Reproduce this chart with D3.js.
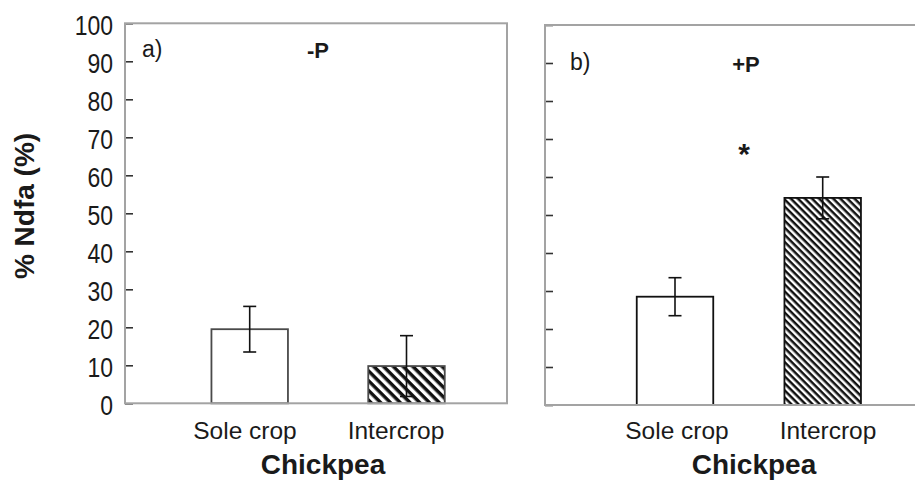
<!DOCTYPE html>
<html>
<head>
<meta charset="utf-8">
<script src="https://cdn.jsdelivr.net/npm/d3@7/dist/d3.min.js"></script>
<style>
  html, body { margin: 0; padding: 0; background: #fff; overflow: hidden; }
  svg { display: block; }
  text { font-family: "Liberation Sans", Arial, sans-serif; fill: #1a1a1a; }
</style>
</head>
<body>
<svg id="chart" width="915" height="486"></svg>
<script>
// Chickpea % Ndfa, sole crop vs intercrop, without (-P) and with (+P) phosphorus
const categories = ["Sole crop", "Intercrop"];
const panelTags = ["a)", "b)"];
const treatments = ["-P", "+P"];
const ndfaMinusP = [19.5, 9.8];
const errMinusP = [6.0, 8.0];
const ndfaPlusP = [28.5, 54.5];
const errPlusP = [5.0, 5.5];
const significance = ["", "*"];
const yTicks = [0, 10, 20, 30, 40, 50, 60, 70, 80, 90, 100];
const yTitle = "% Ndfa (%)";
const xTitle = "Chickpea";

const svg = d3.select("#chart");

// hatch fills for the intercrop bars
const defs = svg.append("defs");
function hatch(id, period) {
  const p = defs.append("pattern")
    .attr("id", id)
    .attr("patternUnits", "userSpaceOnUse")
    .attr("width", period).attr("height", period)
    .attr("patternTransform", "rotate(45)");
  p.append("rect").attr("width", period).attr("height", period).attr("fill", "#fff");
  p.append("rect").attr("width", period).attr("height", period / 2).attr("fill", "#111");
}
hatch("hatchA", 6.9);
hatch("hatchB", 5.0);

const panels = [
  { tag: panelTags[0], treat: treatments[0], values: ndfaMinusP, errs: errMinusP,
    x0: 125, x1: 507, y0: 23.3, y1: 403.3, centers: [249.7, 406.5], labels: [245, 396],
    showTickLabels: true, hatch: "hatchA", barStroke: "#4a4a4a",
    tagPos: [142, 57], treatX: 318, treatY: 57.5, titleX: 323 },
  { tag: panelTags[1], treat: treatments[1], values: ndfaPlusP, errs: errPlusP,
    x0: 545, x1: 980, y0: 25, y1: 405, centers: [675, 822.7], labels: [677, 828],
    showTickLabels: false, hatch: "hatchB", barStroke: "#111",
    tagPos: [570, 70], treatX: 746, treatY: 71.5, titleX: 754 }
];

const barWidth = 76.5;

panels.forEach((P, pi) => {
  const y = d3.scaleLinear().domain([0, 100]).range([P.y1, P.y0]);
  const x = d3.scalePoint().domain(categories).range(P.centers);
  const xl = d3.scalePoint().domain(categories).range(P.labels);
  const g = svg.append("g");

  // y axis with inward ticks
  const axis = d3.axisLeft(y).tickValues(yTicks).tickSize(-8).tickPadding(0)
    .tickFormat(P.showTickLabels ? d3.format("d") : () => "");
  const ag = g.append("g").attr("transform", `translate(${P.x0},0)`).call(axis);
  ag.select(".domain").remove();
  ag.selectAll(".tick line").attr("stroke", "#333").attr("stroke-width", 1.6);
  ag.selectAll(".tick text")
    .attr("font-size", 28)
    .attr("x", -12 / 0.82)
    .attr("dy", "0.40em")
    .attr("transform", "scale(0.82,1)")
    .attr("text-anchor", "end")
    .style("fill", "#1a1a1a");

  // bars
  g.selectAll("rect.bar").data(categories).join("rect")
    .attr("class", "bar")
    .attr("x", d => x(d) - barWidth / 2)
    .attr("width", barWidth)
    .attr("y", (d, i) => y(P.values[i]))
    .attr("height", (d, i) => y(0) - y(P.values[i]))
    .attr("fill", (d, i) => i === 0 ? "#fff" : `url(#${P.hatch})`)
    .attr("stroke", P.barStroke)
    .attr("stroke-width", 1.8);

  // error bars
  const cap = 6.5;
  const eb = g.selectAll("g.err").data(categories).join("g").attr("class", "err");
  eb.append("line")
    .attr("x1", d => x(d)).attr("x2", d => x(d))
    .attr("y1", (d, i) => y(P.values[i] + P.errs[i]))
    .attr("y2", (d, i) => y(P.values[i] - P.errs[i]));
  eb.append("line")
    .attr("x1", d => x(d) - cap).attr("x2", d => x(d) + cap)
    .attr("y1", (d, i) => y(P.values[i] + P.errs[i]))
    .attr("y2", (d, i) => y(P.values[i] + P.errs[i]));
  eb.append("line")
    .attr("x1", d => x(d) - cap).attr("x2", d => x(d) + cap)
    .attr("y1", (d, i) => y(P.values[i] - P.errs[i]))
    .attr("y2", (d, i) => y(P.values[i] - P.errs[i]));
  eb.selectAll("line").attr("stroke", "#111").attr("stroke-width", 1.6);

  // panel frame
  g.append("rect")
    .attr("x", P.x0).attr("y", P.y0)
    .attr("width", P.x1 - P.x0).attr("height", P.y1 - P.y0)
    .attr("fill", "none").attr("stroke", "#a3a3a3").attr("stroke-width", 2);

  // category labels
  g.selectAll("text.cat").data(categories).join("text")
    .attr("class", "cat")
    .attr("x", d => xl(d)).attr("y", 439)
    .attr("text-anchor", "middle").attr("font-size", 24.5)
    .text(d => d);

  // x title
  g.append("text")
    .attr("x", P.titleX).attr("y", 474)
    .attr("text-anchor", "middle").attr("font-size", 28).attr("font-weight", "bold")
    .text(xTitle);

  // panel tag and treatment
  g.append("text")
    .attr("x", P.tagPos[0]).attr("y", P.tagPos[1])
    .attr("font-size", 23).text(P.tag);
  g.append("text")
    .attr("x", P.treatX).attr("y", P.treatY)
    .attr("text-anchor", "middle").attr("font-size", 22).attr("font-weight", "bold")
    .text(P.treat);

  // significance marker between the bars
  const sig = significance[pi];
  if (sig) {
    g.append("text")
      .attr("x", 744).attr("y", y(67) + 14)
      .attr("text-anchor", "middle").attr("font-size", 30).attr("font-weight", "bold")
      .text(sig);
  }
});

// shared y title
svg.append("text")
  .attr("transform", "translate(34,206) rotate(-90)")
  .attr("text-anchor", "middle").attr("font-size", 28).attr("font-weight", "bold")
  .text(yTitle);
</script>
</body>
</html>
